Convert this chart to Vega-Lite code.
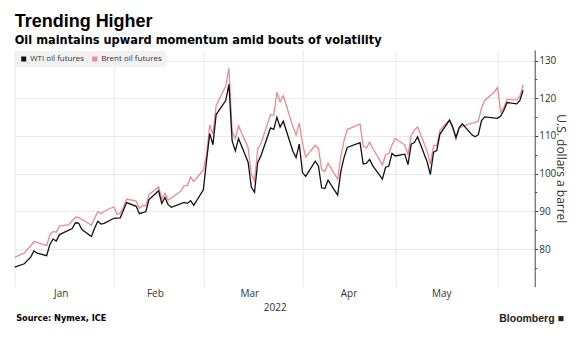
{
  "$schema": "https://vega.github.io/schema/vega-lite/v6.json",
  "background": "white",
  "padding": {"left": 11.7, "top": 13, "right": 4, "bottom": 0},
  "config": {
    "view": {"stroke": null},
    "concat": {"spacing": 0},
    "axis": {"labelFont": "Open Sans", "titleFont": "Open Sans"},
    "legend": {"labelFont": "Open Sans"}
  },
  "title": {
    "text": "Trending Higher",
    "subtitle": "Oil maintains upward momentum amid bouts of volatility",
    "anchor": "start",
    "frame": "group",
    "font": "Liberation Sans",
    "fontSize": 18,
    "fontWeight": "bold",
    "color": "#000000",
    "subtitleFont": "DejaVu Sans",
    "subtitleFontSize": 11.4,
    "subtitleFontWeight": "bold",
    "subtitleColor": "#000000",
    "subtitlePadding": 3.5,
    "offset": 4
  },
  "vconcat": [
    {
      "title": {
        "text": "Bloomberg ■",
        "orient": "bottom",
        "anchor": "end",
        "font": "Liberation Sans",
        "fontSize": 10.5,
        "fontWeight": "bold",
        "color": "#222222",
        "offset": -7.7,
        "dx": -3
      },
      "vconcat": [
        {
          "title": {
            "text": "Source: Nymex, ICE",
            "orient": "bottom",
            "anchor": "start",
            "frame": "group",
            "font": "DejaVu Sans",
            "fontSize": 8.2,
            "fontWeight": "bold",
            "color": "#000000",
            "offset": 2,
            "dx": 1.5
          },
          "width": 520,
          "height": 236.7,
          "data": {
            "values": [
              {"date": "2021-12-31", "series": "Brent oil futures", "price": 77.78},
              {"date": "2022-01-03", "series": "Brent oil futures", "price": 78.98},
              {"date": "2022-01-04", "series": "Brent oil futures", "price": 80.00},
              {"date": "2022-01-05", "series": "Brent oil futures", "price": 80.80},
              {"date": "2022-01-06", "series": "Brent oil futures", "price": 81.99},
              {"date": "2022-01-07", "series": "Brent oil futures", "price": 81.75},
              {"date": "2022-01-10", "series": "Brent oil futures", "price": 80.87},
              {"date": "2022-01-11", "series": "Brent oil futures", "price": 83.72},
              {"date": "2022-01-12", "series": "Brent oil futures", "price": 84.67},
              {"date": "2022-01-13", "series": "Brent oil futures", "price": 84.47},
              {"date": "2022-01-14", "series": "Brent oil futures", "price": 86.06},
              {"date": "2022-01-17", "series": "Brent oil futures", "price": 86.48},
              {"date": "2022-01-18", "series": "Brent oil futures", "price": 87.51},
              {"date": "2022-01-19", "series": "Brent oil futures", "price": 88.44},
              {"date": "2022-01-20", "series": "Brent oil futures", "price": 88.38},
              {"date": "2022-01-21", "series": "Brent oil futures", "price": 87.89},
              {"date": "2022-01-24", "series": "Brent oil futures", "price": 86.27},
              {"date": "2022-01-25", "series": "Brent oil futures", "price": 88.20},
              {"date": "2022-01-26", "series": "Brent oil futures", "price": 89.96},
              {"date": "2022-01-27", "series": "Brent oil futures", "price": 89.34},
              {"date": "2022-01-28", "series": "Brent oil futures", "price": 90.03},
              {"date": "2022-01-31", "series": "Brent oil futures", "price": 91.21},
              {"date": "2022-02-01", "series": "Brent oil futures", "price": 89.16},
              {"date": "2022-02-02", "series": "Brent oil futures", "price": 89.47},
              {"date": "2022-02-03", "series": "Brent oil futures", "price": 91.11},
              {"date": "2022-02-04", "series": "Brent oil futures", "price": 93.27},
              {"date": "2022-02-07", "series": "Brent oil futures", "price": 92.69},
              {"date": "2022-02-08", "series": "Brent oil futures", "price": 90.78},
              {"date": "2022-02-09", "series": "Brent oil futures", "price": 91.55},
              {"date": "2022-02-10", "series": "Brent oil futures", "price": 91.41},
              {"date": "2022-02-11", "series": "Brent oil futures", "price": 94.44},
              {"date": "2022-02-14", "series": "Brent oil futures", "price": 96.48},
              {"date": "2022-02-15", "series": "Brent oil futures", "price": 93.28},
              {"date": "2022-02-16", "series": "Brent oil futures", "price": 94.81},
              {"date": "2022-02-17", "series": "Brent oil futures", "price": 92.97},
              {"date": "2022-02-18", "series": "Brent oil futures", "price": 93.54},
              {"date": "2022-02-21", "series": "Brent oil futures", "price": 95.39},
              {"date": "2022-02-22", "series": "Brent oil futures", "price": 96.84},
              {"date": "2022-02-23", "series": "Brent oil futures", "price": 96.84},
              {"date": "2022-02-24", "series": "Brent oil futures", "price": 99.08},
              {"date": "2022-02-25", "series": "Brent oil futures", "price": 97.93},
              {"date": "2022-02-28", "series": "Brent oil futures", "price": 100.99},
              {"date": "2022-03-01", "series": "Brent oil futures", "price": 104.97},
              {"date": "2022-03-02", "series": "Brent oil futures", "price": 112.93},
              {"date": "2022-03-03", "series": "Brent oil futures", "price": 110.46},
              {"date": "2022-03-04", "series": "Brent oil futures", "price": 118.11},
              {"date": "2022-03-07", "series": "Brent oil futures", "price": 123.21},
              {"date": "2022-03-08", "series": "Brent oil futures", "price": 127.98},
              {"date": "2022-03-09", "series": "Brent oil futures", "price": 111.14},
              {"date": "2022-03-10", "series": "Brent oil futures", "price": 109.33},
              {"date": "2022-03-11", "series": "Brent oil futures", "price": 112.67},
              {"date": "2022-03-14", "series": "Brent oil futures", "price": 106.90},
              {"date": "2022-03-15", "series": "Brent oil futures", "price": 99.91},
              {"date": "2022-03-16", "series": "Brent oil futures", "price": 98.02},
              {"date": "2022-03-17", "series": "Brent oil futures", "price": 106.64},
              {"date": "2022-03-18", "series": "Brent oil futures", "price": 107.93},
              {"date": "2022-03-21", "series": "Brent oil futures", "price": 115.62},
              {"date": "2022-03-22", "series": "Brent oil futures", "price": 115.48},
              {"date": "2022-03-23", "series": "Brent oil futures", "price": 121.60},
              {"date": "2022-03-24", "series": "Brent oil futures", "price": 119.03},
              {"date": "2022-03-25", "series": "Brent oil futures", "price": 120.65},
              {"date": "2022-03-28", "series": "Brent oil futures", "price": 112.48},
              {"date": "2022-03-29", "series": "Brent oil futures", "price": 110.23},
              {"date": "2022-03-30", "series": "Brent oil futures", "price": 113.45},
              {"date": "2022-03-31", "series": "Brent oil futures", "price": 107.91},
              {"date": "2022-04-01", "series": "Brent oil futures", "price": 104.39},
              {"date": "2022-04-04", "series": "Brent oil futures", "price": 107.53},
              {"date": "2022-04-05", "series": "Brent oil futures", "price": 106.64},
              {"date": "2022-04-06", "series": "Brent oil futures", "price": 101.07},
              {"date": "2022-04-07", "series": "Brent oil futures", "price": 100.58},
              {"date": "2022-04-08", "series": "Brent oil futures", "price": 102.78},
              {"date": "2022-04-11", "series": "Brent oil futures", "price": 98.48},
              {"date": "2022-04-12", "series": "Brent oil futures", "price": 104.64},
              {"date": "2022-04-13", "series": "Brent oil futures", "price": 108.78},
              {"date": "2022-04-14", "series": "Brent oil futures", "price": 111.70},
              {"date": "2022-04-18", "series": "Brent oil futures", "price": 113.16},
              {"date": "2022-04-19", "series": "Brent oil futures", "price": 107.25},
              {"date": "2022-04-20", "series": "Brent oil futures", "price": 106.80},
              {"date": "2022-04-21", "series": "Brent oil futures", "price": 108.33},
              {"date": "2022-04-22", "series": "Brent oil futures", "price": 106.65},
              {"date": "2022-04-25", "series": "Brent oil futures", "price": 102.32},
              {"date": "2022-04-26", "series": "Brent oil futures", "price": 104.99},
              {"date": "2022-04-27", "series": "Brent oil futures", "price": 105.32},
              {"date": "2022-04-28", "series": "Brent oil futures", "price": 107.59},
              {"date": "2022-04-29", "series": "Brent oil futures", "price": 109.34},
              {"date": "2022-05-02", "series": "Brent oil futures", "price": 107.58},
              {"date": "2022-05-03", "series": "Brent oil futures", "price": 104.97},
              {"date": "2022-05-04", "series": "Brent oil futures", "price": 110.14},
              {"date": "2022-05-05", "series": "Brent oil futures", "price": 111.55},
              {"date": "2022-05-06", "series": "Brent oil futures", "price": 112.39},
              {"date": "2022-05-09", "series": "Brent oil futures", "price": 105.94},
              {"date": "2022-05-10", "series": "Brent oil futures", "price": 102.46},
              {"date": "2022-05-11", "series": "Brent oil futures", "price": 107.51},
              {"date": "2022-05-12", "series": "Brent oil futures", "price": 107.45},
              {"date": "2022-05-13", "series": "Brent oil futures", "price": 111.55},
              {"date": "2022-05-16", "series": "Brent oil futures", "price": 114.24},
              {"date": "2022-05-17", "series": "Brent oil futures", "price": 111.93},
              {"date": "2022-05-18", "series": "Brent oil futures", "price": 109.11},
              {"date": "2022-05-19", "series": "Brent oil futures", "price": 112.04},
              {"date": "2022-05-20", "series": "Brent oil futures", "price": 112.55},
              {"date": "2022-05-23", "series": "Brent oil futures", "price": 113.42},
              {"date": "2022-05-24", "series": "Brent oil futures", "price": 113.56},
              {"date": "2022-05-25", "series": "Brent oil futures", "price": 114.03},
              {"date": "2022-05-26", "series": "Brent oil futures", "price": 117.40},
              {"date": "2022-05-27", "series": "Brent oil futures", "price": 119.43},
              {"date": "2022-05-30", "series": "Brent oil futures", "price": 121.67},
              {"date": "2022-05-31", "series": "Brent oil futures", "price": 122.84},
              {"date": "2022-06-01", "series": "Brent oil futures", "price": 116.29},
              {"date": "2022-06-02", "series": "Brent oil futures", "price": 117.61},
              {"date": "2022-06-03", "series": "Brent oil futures", "price": 119.72},
              {"date": "2022-06-06", "series": "Brent oil futures", "price": 119.51},
              {"date": "2022-06-07", "series": "Brent oil futures", "price": 120.57},
              {"date": "2022-06-08", "series": "Brent oil futures", "price": 123.58},
              {"date": "2021-12-31", "series": "WTI oil futures", "price": 75.21},
              {"date": "2022-01-03", "series": "WTI oil futures", "price": 76.08},
              {"date": "2022-01-04", "series": "WTI oil futures", "price": 76.99},
              {"date": "2022-01-05", "series": "WTI oil futures", "price": 77.85},
              {"date": "2022-01-06", "series": "WTI oil futures", "price": 79.46},
              {"date": "2022-01-07", "series": "WTI oil futures", "price": 78.90},
              {"date": "2022-01-10", "series": "WTI oil futures", "price": 78.23},
              {"date": "2022-01-11", "series": "WTI oil futures", "price": 81.22},
              {"date": "2022-01-12", "series": "WTI oil futures", "price": 82.64},
              {"date": "2022-01-13", "series": "WTI oil futures", "price": 82.12},
              {"date": "2022-01-14", "series": "WTI oil futures", "price": 83.82},
              {"date": "2022-01-18", "series": "WTI oil futures", "price": 85.43},
              {"date": "2022-01-19", "series": "WTI oil futures", "price": 86.96},
              {"date": "2022-01-20", "series": "WTI oil futures", "price": 86.90},
              {"date": "2022-01-21", "series": "WTI oil futures", "price": 85.14},
              {"date": "2022-01-24", "series": "WTI oil futures", "price": 83.31},
              {"date": "2022-01-25", "series": "WTI oil futures", "price": 85.60},
              {"date": "2022-01-26", "series": "WTI oil futures", "price": 87.35},
              {"date": "2022-01-27", "series": "WTI oil futures", "price": 86.61},
              {"date": "2022-01-28", "series": "WTI oil futures", "price": 86.82},
              {"date": "2022-01-31", "series": "WTI oil futures", "price": 88.15},
              {"date": "2022-02-01", "series": "WTI oil futures", "price": 88.20},
              {"date": "2022-02-02", "series": "WTI oil futures", "price": 88.26},
              {"date": "2022-02-03", "series": "WTI oil futures", "price": 90.27},
              {"date": "2022-02-04", "series": "WTI oil futures", "price": 92.31},
              {"date": "2022-02-07", "series": "WTI oil futures", "price": 91.32},
              {"date": "2022-02-08", "series": "WTI oil futures", "price": 89.36},
              {"date": "2022-02-09", "series": "WTI oil futures", "price": 89.66},
              {"date": "2022-02-10", "series": "WTI oil futures", "price": 89.88},
              {"date": "2022-02-11", "series": "WTI oil futures", "price": 93.10},
              {"date": "2022-02-14", "series": "WTI oil futures", "price": 95.46},
              {"date": "2022-02-15", "series": "WTI oil futures", "price": 92.07},
              {"date": "2022-02-16", "series": "WTI oil futures", "price": 93.66},
              {"date": "2022-02-17", "series": "WTI oil futures", "price": 91.76},
              {"date": "2022-02-18", "series": "WTI oil futures", "price": 91.07},
              {"date": "2022-02-22", "series": "WTI oil futures", "price": 92.35},
              {"date": "2022-02-23", "series": "WTI oil futures", "price": 92.10},
              {"date": "2022-02-24", "series": "WTI oil futures", "price": 92.81},
              {"date": "2022-02-25", "series": "WTI oil futures", "price": 91.59},
              {"date": "2022-02-28", "series": "WTI oil futures", "price": 95.72},
              {"date": "2022-03-01", "series": "WTI oil futures", "price": 103.41},
              {"date": "2022-03-02", "series": "WTI oil futures", "price": 110.60},
              {"date": "2022-03-03", "series": "WTI oil futures", "price": 107.67},
              {"date": "2022-03-04", "series": "WTI oil futures", "price": 115.68},
              {"date": "2022-03-07", "series": "WTI oil futures", "price": 119.40},
              {"date": "2022-03-08", "series": "WTI oil futures", "price": 123.70},
              {"date": "2022-03-09", "series": "WTI oil futures", "price": 108.70},
              {"date": "2022-03-10", "series": "WTI oil futures", "price": 106.02},
              {"date": "2022-03-11", "series": "WTI oil futures", "price": 109.33},
              {"date": "2022-03-14", "series": "WTI oil futures", "price": 103.01},
              {"date": "2022-03-15", "series": "WTI oil futures", "price": 96.44},
              {"date": "2022-03-16", "series": "WTI oil futures", "price": 95.04},
              {"date": "2022-03-17", "series": "WTI oil futures", "price": 102.98},
              {"date": "2022-03-18", "series": "WTI oil futures", "price": 104.70},
              {"date": "2022-03-21", "series": "WTI oil futures", "price": 112.12},
              {"date": "2022-03-22", "series": "WTI oil futures", "price": 111.76},
              {"date": "2022-03-23", "series": "WTI oil futures", "price": 114.93},
              {"date": "2022-03-24", "series": "WTI oil futures", "price": 112.34},
              {"date": "2022-03-25", "series": "WTI oil futures", "price": 113.90},
              {"date": "2022-03-28", "series": "WTI oil futures", "price": 105.96},
              {"date": "2022-03-29", "series": "WTI oil futures", "price": 104.24},
              {"date": "2022-03-30", "series": "WTI oil futures", "price": 107.82},
              {"date": "2022-03-31", "series": "WTI oil futures", "price": 100.28},
              {"date": "2022-04-01", "series": "WTI oil futures", "price": 99.27},
              {"date": "2022-04-04", "series": "WTI oil futures", "price": 103.28},
              {"date": "2022-04-05", "series": "WTI oil futures", "price": 101.96},
              {"date": "2022-04-06", "series": "WTI oil futures", "price": 96.23},
              {"date": "2022-04-07", "series": "WTI oil futures", "price": 96.03},
              {"date": "2022-04-08", "series": "WTI oil futures", "price": 98.26},
              {"date": "2022-04-11", "series": "WTI oil futures", "price": 94.29},
              {"date": "2022-04-12", "series": "WTI oil futures", "price": 100.60},
              {"date": "2022-04-13", "series": "WTI oil futures", "price": 104.25},
              {"date": "2022-04-14", "series": "WTI oil futures", "price": 106.95},
              {"date": "2022-04-18", "series": "WTI oil futures", "price": 108.21},
              {"date": "2022-04-19", "series": "WTI oil futures", "price": 102.56},
              {"date": "2022-04-20", "series": "WTI oil futures", "price": 102.75},
              {"date": "2022-04-21", "series": "WTI oil futures", "price": 103.79},
              {"date": "2022-04-22", "series": "WTI oil futures", "price": 102.07},
              {"date": "2022-04-25", "series": "WTI oil futures", "price": 98.54},
              {"date": "2022-04-26", "series": "WTI oil futures", "price": 101.70},
              {"date": "2022-04-27", "series": "WTI oil futures", "price": 102.02},
              {"date": "2022-04-28", "series": "WTI oil futures", "price": 105.36},
              {"date": "2022-04-29", "series": "WTI oil futures", "price": 104.69},
              {"date": "2022-05-02", "series": "WTI oil futures", "price": 105.17},
              {"date": "2022-05-03", "series": "WTI oil futures", "price": 102.41},
              {"date": "2022-05-04", "series": "WTI oil futures", "price": 107.81},
              {"date": "2022-05-05", "series": "WTI oil futures", "price": 108.26},
              {"date": "2022-05-06", "series": "WTI oil futures", "price": 109.77},
              {"date": "2022-05-09", "series": "WTI oil futures", "price": 103.09},
              {"date": "2022-05-10", "series": "WTI oil futures", "price": 99.76},
              {"date": "2022-05-11", "series": "WTI oil futures", "price": 105.71},
              {"date": "2022-05-12", "series": "WTI oil futures", "price": 106.13},
              {"date": "2022-05-13", "series": "WTI oil futures", "price": 110.49},
              {"date": "2022-05-16", "series": "WTI oil futures", "price": 114.20},
              {"date": "2022-05-17", "series": "WTI oil futures", "price": 112.40},
              {"date": "2022-05-18", "series": "WTI oil futures", "price": 109.59},
              {"date": "2022-05-19", "series": "WTI oil futures", "price": 112.21},
              {"date": "2022-05-20", "series": "WTI oil futures", "price": 113.23},
              {"date": "2022-05-23", "series": "WTI oil futures", "price": 110.29},
              {"date": "2022-05-24", "series": "WTI oil futures", "price": 109.77},
              {"date": "2022-05-25", "series": "WTI oil futures", "price": 110.33},
              {"date": "2022-05-26", "series": "WTI oil futures", "price": 114.09},
              {"date": "2022-05-27", "series": "WTI oil futures", "price": 115.07},
              {"date": "2022-05-31", "series": "WTI oil futures", "price": 114.67},
              {"date": "2022-06-01", "series": "WTI oil futures", "price": 115.26},
              {"date": "2022-06-02", "series": "WTI oil futures", "price": 116.87},
              {"date": "2022-06-03", "series": "WTI oil futures", "price": 118.87},
              {"date": "2022-06-06", "series": "WTI oil futures", "price": 118.50},
              {"date": "2022-06-07", "series": "WTI oil futures", "price": 119.41},
              {"date": "2022-06-08", "series": "WTI oil futures", "price": 122.11}
            ]
          },
          "mark": {"type": "line", "strokeWidth": 1.3, "interpolate": "linear"},
          "encoding": {
            "x": {
              "field": "date",
              "type": "temporal",
              "scale": {
                "type": "utc",
                "domain": [
                  {"year": 2021, "month": 12, "date": 31, "utc": true},
                  {"year": 2022, "month": 6, "date": 11, "hours": 15, "utc": true}
                ]
              },
              "axis": {
                "values": [
                  {"year": 2021, "month": 12, "date": 31, "utc": true},
                  {"year": 2022, "month": 1, "date": 31, "utc": true},
                  {"year": 2022, "month": 2, "date": 28, "utc": true},
                  {"year": 2022, "month": 3, "date": 31, "utc": true},
                  {"year": 2022, "month": 4, "date": 29, "utc": true},
                  {"year": 2022, "month": 5, "date": 31, "utc": true}
                ],
                "labelExpr": "utcmonth(datum.value) == 4 && utcdate(datum.value) == 31 ? '' : utcFormat(time(datum.value) + 259200000, '%b')",
                "grid": true,
                "gridColor": "#e9e9e9",
                "ticks": false,
                "domain": false,
                "labelOffset": {"condition": {"test": "utcmonth(datum.value) == 0", "value": 41}, "value": 46},
                "labelPadding": 2,
                "labelFontSize": 10,
                "labelColor": "#333333",
                "labelOverlap": false,
                "labelFlush": false,
                "title": "2022",
                "titleFontSize": 10,
                "titleFontWeight": "normal",
                "titleColor": "#333333",
                "titlePadding": 4
              }
            },
            "y": {
              "field": "price",
              "type": "quantitative",
              "scale": {"domain": [70, 132.8], "nice": false, "zero": false},
              "axis": {
                "orient": "right",
                "values": [75, 80, 85, 90, 95, 100, 105, 110, 115, 120, 125, 130],
                "labelExpr": "datum.value % 10 == 0 ? datum.label : ''",
                "labelOverlap": false,
                "tickSize": {"condition": {"test": "datum.value % 10 == 0", "value": 3}, "value": 2},
                "gridOpacity": {"condition": {"test": "datum.value % 10 == 0", "value": 1}, "value": 0},
                "gridColor": "#e9e9e9",
                "domainColor": "#444444",
                "tickColor": "#444444",
                "labelFontSize": 10,
                "labelColor": "#333333",
                "labelPadding": 1,
                "title": "U.S. dollars a barrel",
                "titleFontSize": 12,
                "titleFontWeight": "normal",
                "titleColor": "#333333",
                "titlePadding": -2
              }
            },
            "color": {
              "field": "series",
              "type": "nominal",
              "scale": {
                "domain": ["WTI oil futures", "Brent oil futures"],
                "range": ["#111111", "#ee8a90"]
              },
              "legend": {
                "title": null,
                "orient": "top-left",
                "direction": "horizontal",
                "offset": 1,
                "padding": 4,
                "fillColor": "#f1f1f1",
                "symbolType": "square",
                "symbolSize": 25,
                "symbolStrokeWidth": 0,
                "labelFontSize": 8,
                "labelColor": "#333333",
                "labelOffset": 2.5,
                "columnPadding": 6,
                "encode": {
                  "symbols": {
                    "update": {
                      "fill": {"scale": "color", "field": "value"},
                      "stroke": {"value": "transparent"}
                    }
                  }
                }
              }
            }
          }
        }
      ]
    }
  ]
}
